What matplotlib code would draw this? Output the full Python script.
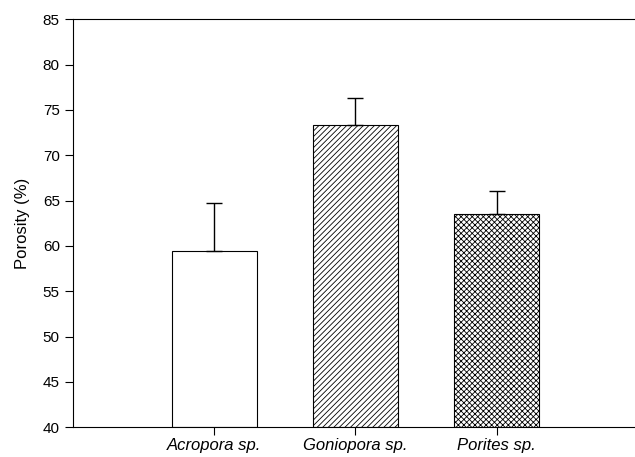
import matplotlib
matplotlib.use("Agg")
import matplotlib.pyplot as plt

# coral porosity data
species = ["Acropora sp.", "Goniopora sp.", "Porites sp."]
porosity = [59.4, 73.3, 63.55]
porosity_sd = [5.35, 3.0, 2.55]
hatches = ["", "//////", "xxxxxx"]

plt.rcParams["font.family"] = ["Liberation Sans", "DejaVu Sans"]
plt.rcParams["hatch.linewidth"] = 0.6

fig = plt.figure(figsize=(6.35, 4.57), dpi=100)
ax = fig.add_axes([0.115, 0.065, 0.885, 0.893])

xpos = [1, 2, 3]
for x, v, sd, h in zip(xpos, porosity, porosity_sd, hatches):
    ax.bar(x, v - 40, bottom=40, width=0.6, color="white", edgecolor="black",
           linewidth=0.8, hatch=h, zorder=2)
    ax.errorbar(x, v, yerr=[[0], [sd]], color="black", linewidth=1.0,
                capsize=6, capthick=1.0, zorder=3)

ax.set_xlim(0, 3.98)
ax.set_ylim(40, 85)
ax.set_yticks(range(40, 86, 5))
ax.set_xticks(xpos)
ax.set_xticklabels(species, fontstyle="italic", fontsize=12)
ax.tick_params(axis="y", labelsize=11, direction="out", length=6, width=0.8)
ax.tick_params(axis="x", direction="out", length=6, width=0.8, pad=1.5)
ax.set_ylabel("Porosity (%)", fontsize=12, labelpad=9)

ax.spines["right"].set_visible(False)
for s in ["left", "top", "bottom"]:
    ax.spines[s].set_linewidth(0.8)

fig.savefig("out.png", dpi=100)
